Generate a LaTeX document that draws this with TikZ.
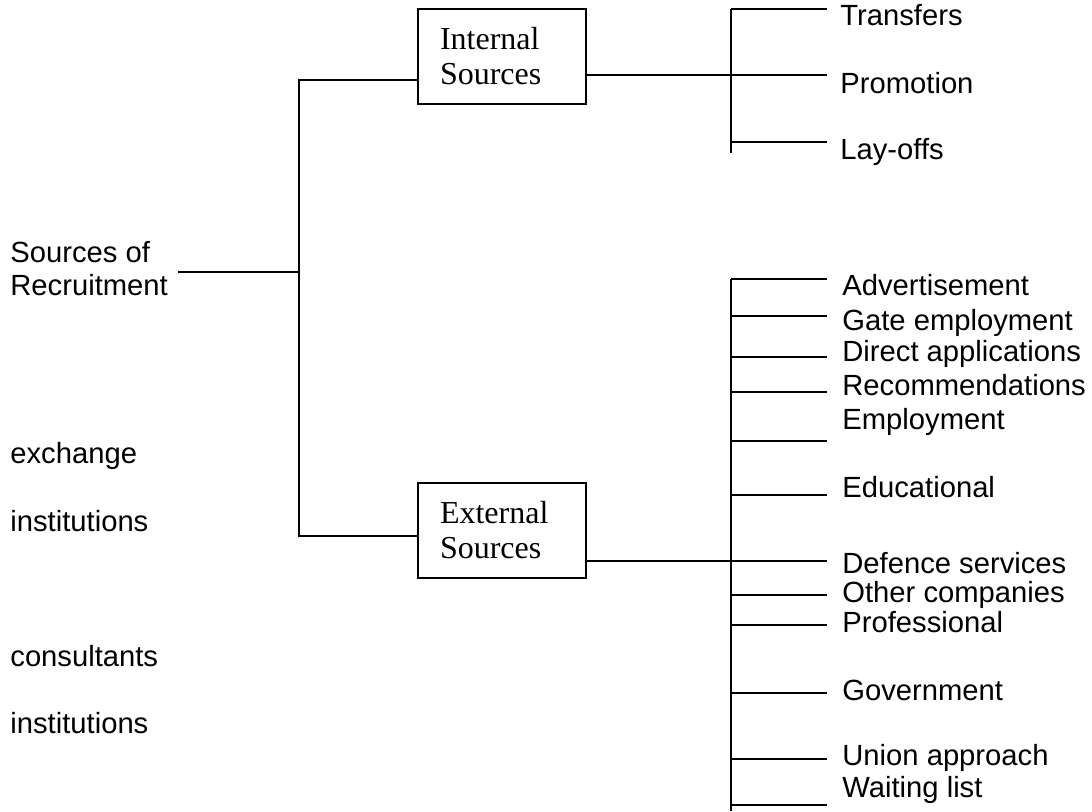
\documentclass[tikz,border=0pt]{standalone}
\usepackage{fontspec}
\setmainfont{Liberation Sans}
\newfontfamily\boxfont{Liberation Serif}
\usetikzlibrary{calc,positioning}
\tikzset{
  box/.style={draw, line width=1pt, text width=62pt, inner xsep=11pt, inner ysep=0pt, minimum height=47.5pt, align=left, font=\boxfont\fontsize{16}{17.5}\selectfont},
  leaf/.style={anchor=base west, inner sep=0pt, font=\fontsize{14.6}{16.5}\selectfont},
  side/.style={anchor=base west, inner sep=0pt, align=left, font=\fontsize{14.6}{16.5}\selectfont},
  wire/.style={line width=1pt}
}

\begin{document}
\begin{tikzpicture}[x=0.5pt,y=-0.5pt]
\useasboundingbox (0,0) rectangle (1092,811);
% root and left column
\node [side] (root) at (10,295) {Sources of\\Recruitment};
\node [side] (exch) at (10,463) {exchange};
\node [side] (inst1) at (10,531) {institutions};
\node [side] (cons) at (10,666) {consultants};
\node [side] (inst2) at (10,733) {institutions};
% the two boxes
\node [box] (intl) at (502,56.5) {Internal\\Sources};
\node [box] (extl) at (502,530.5) {External\\Sources};
% main spine
\coordinate (sp top) at (299,80);
\coordinate (sp mid) at (299,272);
\coordinate (sp bot) at (299,536);
\draw [wire] ($(root.east |- sp mid)+(10,0)$) -- (sp mid);
\draw [wire] (sp top -| intl.west) -- (sp top) -- (sp bot) -- (sp bot -| extl.west);
% internal branch
\coordinate (ib top) at (731,9);
\coordinate (ib in) at (731,75);
\coordinate (ib bot) at (731,153);
\draw [wire] (ib top) -- (ib bot);
\draw [wire] (ib in -| intl.east) -- (ib in);
\foreach \ly/\ty/\txt [count=\i] in {9/25/Transfers, 75/93/Promotion, 142/159/Lay-offs}{
  \coordinate (it\i) at (731,\ly);
  \coordinate (ie\i) at (827,\ly);
  \draw [wire] (it\i) -- (ie\i);
  \node [leaf] (int\i) at (840,\ty) {\txt};
}
% external branch
\coordinate (eb top) at (731,279);
\coordinate (eb in) at (731,561);
\coordinate (eb bot) at (731,811);
\draw [wire] (eb top) -- (eb bot);
\draw [wire] (eb in -| extl.east) -- (eb in);
\foreach \ly/\ty/\txt [count=\i] in {279/295/Advertisement, 316/330/Gate employment,
    357/361/Direct applications, 392/395/Recommendations, 441/429/Employment,
    495/497/Educational, 561/573/Defence services, 595/602/Other companies,
    625/632/Professional, 693/700/Government, 759/765/Union approach, 805/797/Waiting list}{
  \coordinate (et\i) at (731,\ly);
  \coordinate (ee\i) at (827,\ly);
  \draw [wire] (et\i) -- (ee\i);
  \node [leaf] (ext\i) at (842,\ty) {\txt};
}
\end{tikzpicture}
\end{document}
